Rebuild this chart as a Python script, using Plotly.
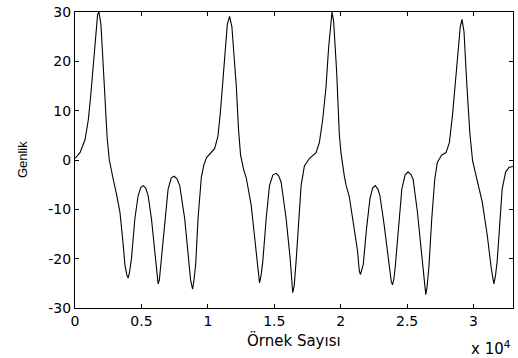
import plotly.graph_objects as go

# Sample index (Örnek Sayısı) and amplitude (Genlik)
ornek = [0, 375, 751, 1001, 1176, 1376, 1577, 1702, 1802, 1952, 2077, 2252, 2420, 2577,
         2750, 2877, 3130, 3380, 3630, 3754, 3900, 4004, 4100, 4254, 4505, 4755, 4950,
         5130, 5320, 5505, 5755, 6006, 6150, 6256, 6350, 6506, 6757, 7007, 7250, 7457,
         7680, 7883, 8258, 8508, 8700, 8850, 8950, 9084, 9260, 9510, 9700, 9900, 10200,
         10510, 10758, 10938, 11134, 11314, 11464, 11637, 11810, 11960, 12140, 12312,
         12462, 12700, 12890, 13265, 13514, 13716, 13889, 14000, 14139, 14390, 14640,
         14900, 15140, 15330, 15518, 15893, 16193, 16389, 16500, 16644, 16840, 17020,
         17267, 17643, 18143, 18393, 18641, 18896, 19092, 19272, 19347, 19467, 19692,
         19900, 20020, 20270, 20398, 20645, 20773, 21020, 21270, 21400, 21490, 21600,
         21697, 21945, 22200, 22400, 22598, 22800, 22950, 23273, 23574, 23800, 23897,
         24000, 24099, 24347, 24602, 24850, 25075, 25300, 25450, 25773, 26073, 26300,
         26404, 26500, 26652, 26854, 27080, 27275, 27600, 27930, 28180, 28430, 28650,
         28850, 29000, 29130, 29280, 29490, 29720, 29930, 30278, 30653, 31030, 31330,
         31531, 31650, 31780, 31982, 32155, 32410, 32658, 32960]
genlik = [0.3, 1.5, 4.1, 8.1, 12.8, 19.5, 26.1, 29.5, 30.0, 27.5, 21.5, 12.8, 4.5, 0.1,
          -2.5, -3.9, -7.0, -10.5, -17.2, -21.2, -23.3, -23.9, -22.8, -19.9, -11.9, -7.2, -5.6,
          -5.2, -5.7, -7.2, -11.9, -18.5, -23.2, -25.1, -24.3, -19.9, -11.9, -5.9, -3.6, -3.3,
          -3.8, -5.2, -11.9, -18.5, -24.3, -26.2, -24.5, -21.2, -11.9, -3.5, -1.0, 0.5, 1.5,
          2.3, 4.8, 9.5, 16.1, 22.8, 27.5, 29.1, 27.0, 21.5, 15.0, 6.1,
          1.0, -2.0, -3.6, -9.2, -15.2, -21.2, -24.9, -23.5, -20.5, -11.9, -5.2,
          -3.0, -2.7, -3.2, -4.5, -11.9, -19.9, -26.9, -25.5, -20.5, -11.9, -5.2,
          -1.2, 0.3, 1.5, 3.5, 8.1, 14.8, 22.8, 28.8, 30.0, 28.1, 18.1,
          5.0, 1.5, -3.2, -5.0, -7.4, -9.4, -14.0, -18.5, -22.5, -23.2, -22.3,
          -21.2, -13.9, -7.9, -5.7, -5.2, -5.9, -7.2, -13.2, -19.9, -24.5, -25.3,
          -24.2, -21.9, -13.2, -5.9, -3.0, -2.4, -3.0, -3.9, -10.5, -18.5, -25.8,
          -27.3, -25.8, -21.2, -11.9, -3.9, -0.5, 1.0, 1.5, 3.5, 9.5, 16.0,
          22.8, 27.0, 28.5, 26.1, 15.5, 5.5, -0.2, -4.5, -8.5, -15.2, -21.9,
          -25.1, -23.5, -20.5, -11.9, -5.9, -2.5, -1.5, -1.3]

x_tickvals = [0, 5000, 10000, 15000, 20000, 25000, 30000]
x_ticktext = ["0", "0.5", "1", "1.5", "2", "2.5", "3"]
y_tickvals = [-30, -20, -10, 0, 10, 20, 30]
y_ticktext = ["-30", "-20", "-10", "0", "10", "20", "30"]

fig = go.Figure()
fig.add_trace(go.Scatter(x=ornek, y=genlik, mode="lines",
                         line=dict(color="#000000", width=1.1), hoverinfo="skip"))

tickfont = dict(family="DejaVu Sans", size=14, color="#000000")
fig.update_layout(
    width=518, height=358,
    margin=dict(l=75, r=4, t=7, b=50),
    paper_bgcolor="white", plot_bgcolor="white",
    showlegend=False,
    xaxis=dict(range=[0, 32970], tickvals=x_tickvals, ticktext=x_ticktext,
               ticks="inside", ticklen=4, tickcolor="#000", tickwidth=1,
               showline=True, linecolor="#000", linewidth=1, mirror="ticks",
               showgrid=False, zeroline=False, tickfont=tickfont,
               ticklabeloverflow="allow"),
    yaxis=dict(range=[-30.001, 30.001], tickvals=y_tickvals, ticktext=y_ticktext,
               ticks="inside", ticklen=4, tickcolor="#000", tickwidth=1,
               showline=True, linecolor="#000", linewidth=1, mirror="ticks",
               showgrid=False, zeroline=False, tickfont=tickfont,
               ticklabeloverflow="allow"),
    annotations=[
        dict(text="Örnek Sayısı", xref="paper", yref="paper", x=0.5, y=0,
             xanchor="center", yanchor="middle", yshift=-32, showarrow=False,
             font=dict(family="DejaVu Sans", size=15, color="#000")),
        dict(text="x 10<sup>4</sup>", xref="paper", yref="paper", x=1, y=0,
             xanchor="right", yanchor="middle", yshift=-40, showarrow=False,
             font=dict(family="DejaVu Sans", size=15, color="#000")),
        dict(text="Genlik", xref="paper", yref="paper", x=(22 - 75) / 439, y=0.5,
             xanchor="center", yanchor="middle", textangle=-90, showarrow=False,
             font=dict(family="Liberation Sans", size=13, color="#000")),
    ],
)

fig.write_html("out.html", config={"displayModeBar": False},
               post_script="document.body.style.margin='0';")
